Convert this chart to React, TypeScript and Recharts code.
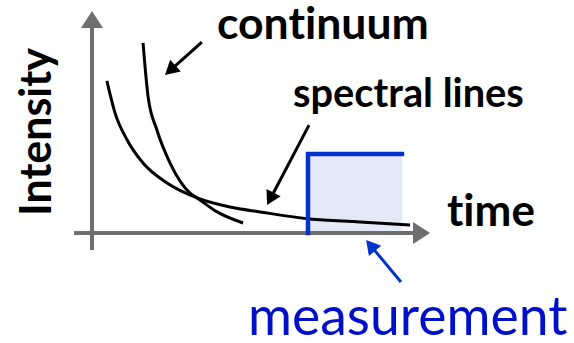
import React from 'react';
import { ComposedChart, Line, XAxis, YAxis, ReferenceLine, ReferenceArea } from 'recharts';

// curves (time vs intensity, arbitrary units)
const continuumTime = [1.51, 1.66, 1.92, 2.31, 2.9, 3.11, 3.7, 4.47];
const continuumIntensity = [8.56, 6.13, 4.64, 3.15, 1.8, 1.58, 0.95, 0.45];
const spectralTime = [0.44, 0.68, 1.04, 1.51, 2.22, 3.11, 4.08, 4.97, 6.45, 7.93, 9.41];
const spectralIntensity = [6.85, 5.41, 4.19, 3.15, 2.25, 1.58, 1.17, 0.95, 0.63, 0.5, 0.36];

// measurement window (gate)
const windowStart = 6.39;
const windowEnd = 9.17;
const windowHeight = 3.56;

const continuumData = continuumTime.map((t, i) => ({ t, i: continuumIntensity[i] }));
const spectralData = spectralTime.map((t, i) => ({ t, i: spectralIntensity[i] }));
const windowData = [
    { t: windowStart, i: 0 },
    { t: windowStart, i: windowHeight },
    { t: windowEnd, i: windowHeight },
];

const W = 574;
const H = 343;
const FONT = 'Lato, "Open Sans", sans-serif';
const noLig = { fontVariantLigatures: 'none' as const, fontFeatureSettings: '"liga" 0' };

// line with a filled arrow head at (x2, y2)
const makeArrow = (color: string, width: number, len: number, half: number) => (props: any) => {
    const { x1, y1, x2, y2 } = props;
    const dx = x2 - x1;
    const dy = y2 - y1;
    const d = Math.sqrt(dx * dx + dy * dy) || 1;
    const ux = dx / d;
    const uy = dy / d;
    const bx = x2 - ux * len;
    const by = y2 - uy * len;
    const pts = `${x2},${y2} ${bx - uy * half},${by + ux * half} ${bx + uy * half},${by - ux * half}`;
    return (
        <g>
            <line x1={x1} y1={y1} x2={bx + ux} y2={by + uy} stroke={color} strokeWidth={width} />
            <polygon points={pts} fill={color} />
        </g>
    );
};

const AxisArrow = makeArrow('#6e6e6e', 4, 17, 11);
const BlackArrow = makeArrow('#000', 3, 14, 8);
const BlueArrow = makeArrow('#0033cc', 3, 14, 8);

export default function App() {
    return (
        <div style={{ position: 'fixed', left: 0, top: 0, background: '#fff' }}>
            <ComposedChart width={W} height={H} margin={{ top: 0, right: 0, bottom: 0, left: 0 }}>
                <XAxis type="number" dataKey="t" domain={[-2.722, 14.26]} hide allowDataOverflow />
                <YAxis type="number" domain={[-4.955, 10.495]} hide allowDataOverflow />

                <ReferenceArea x1={windowStart} x2={windowEnd} y1={0} y2={windowHeight} fill="#e3e9f7" fillOpacity={1} stroke="none" ifOverflow="visible" />

                <ReferenceLine segment={[{ x: -0.53, y: 0 }, { x: 10, y: 0 }]} shape={AxisArrow} ifOverflow="visible" />
                <ReferenceLine segment={[{ x: 0, y: -0.77 }, { x: 0, y: 10 }]} shape={AxisArrow} ifOverflow="visible" />

                <Line data={continuumData} dataKey="i" type="monotone" stroke="#000" strokeWidth={3} dot={false} activeDot={false} isAnimationActive={false} />
                <Line data={spectralData} dataKey="i" type="monotone" stroke="#000" strokeWidth={3} dot={false} activeDot={false} isAnimationActive={false} />
                <Line data={windowData} dataKey="i" type="linear" stroke="#0033cc" strokeWidth={4.5} strokeLinecap="square" dot={false} activeDot={false} isAnimationActive={false} />

                <ReferenceLine segment={[{ x: 3.25, y: 8.6 }, { x: 2.16, y: 7.12 }]} shape={BlackArrow} ifOverflow="visible" />
                <ReferenceLine segment={[{ x: 6.42, y: 4.86 }, { x: 5.18, y: 1.26 }]} shape={BlackArrow} ifOverflow="visible" />
                <ReferenceLine segment={[{ x: 9.14, y: -2.21 }, { x: 8.11, y: -0.32 }]} shape={BlueArrow} ifOverflow="visible" />

                <text x={217} y={39} style={noLig} fontFamily={FONT} fontWeight={700} fontSize={44.5} fill="#000">continuum</text>
                <text x={293} y={107} style={noLig} fontFamily={FONT} fontWeight={700} fontSize={39.8} fill="#000">spectral lines</text>
                <text x={447} y={226} style={noLig} fontFamily={FONT} fontWeight={700} fontSize={44} fill="#000">time</text>
                <text x={248} y={335} style={noLig} fontFamily={FONT} fontWeight={400} fontSize={53.5} fill="#0010c8">measurement</text>
                <text x={51} y={132} transform="rotate(-90 51 132)" textAnchor="middle" style={noLig} fontFamily={FONT} fontWeight={700} fontSize={43} fill="#000">Intensity</text>
            </ComposedChart>
        </div>
    );
}
